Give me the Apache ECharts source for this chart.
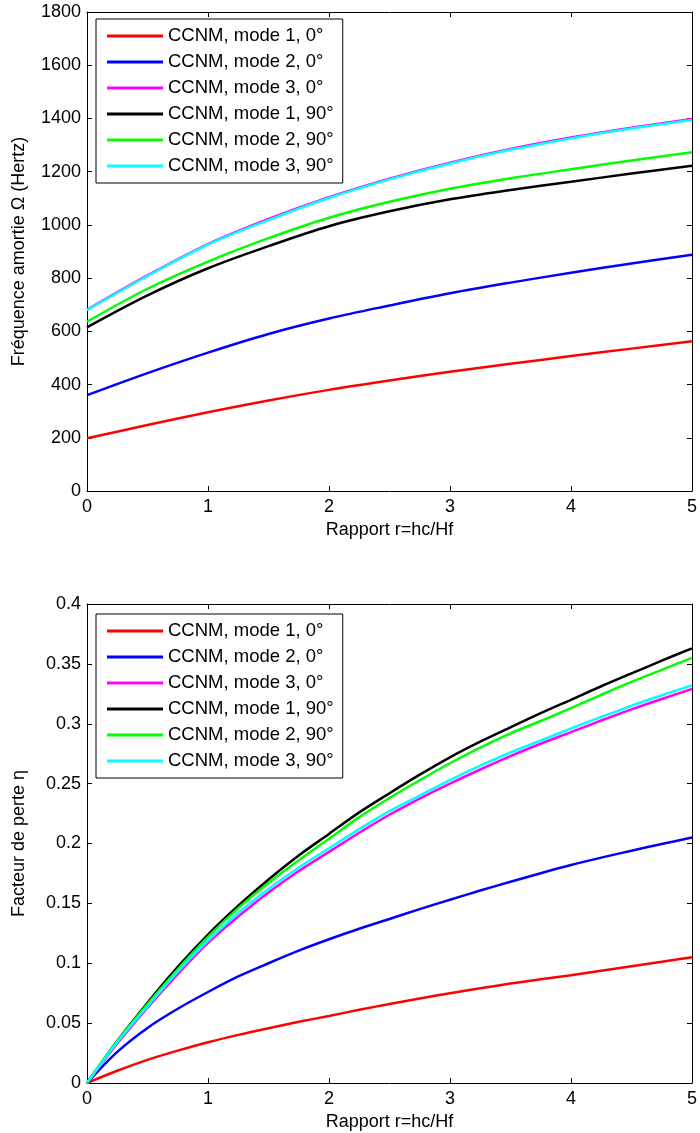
<!DOCTYPE html>
<html>
<head>
<meta charset="utf-8">
<script src="https://cdn.jsdelivr.net/npm/echarts@6/dist/echarts.min.js"></script>
<style>html,body{margin:0;padding:0;background:#fff}#c{width:700px;height:1133px}</style>
</head>
<body>
<div id="c"></div>
<script>
const FONT = '"Liberation Sans", Arial, Helvetica, sans-serif';

const seriesNames = ['CCNM, mode 1, 0°','CCNM, mode 2, 0°','CCNM, mode 3, 0°','CCNM, mode 1, 90°','CCNM, mode 2, 90°','CCNM, mode 3, 90°'];
const seriesColors = ['#ff0000','#0000ff','#ff00ff','#000000','#00ff00','#00ffff'];

// Top plot: damped frequency (Hz) vs r
const freqX = [0,0.5,1,1.5,2,2.5,3,3.5,4,4.5,5];
const freqM1_0  = [198,248,296,340,380,415,448,478,507,535,563];
const freqM2_0  = [360,443,520,590,648,697,743,783,820,855,888];
const freqM3_0  = [681,810,928,1022,1104,1174,1234,1285,1328,1365,1398];
const freqM1_90 = [615,735,837,920,995,1051,1096,1131,1162,1193,1222];
const freqM2_90 = [636,760,862,950,1027,1087,1136,1175,1209,1242,1273];
const freqM3_90 = [680,808,926,1018,1101,1171,1231,1282,1325,1362,1394];

// Bottom plot: loss factor vs r
const lossX = [0,0.25,0.5,0.75,1,1.25,1.5,1.75,2,2.25,2.5,2.75,3,3.25,3.5,3.75,4,4.25,4.5,4.75,5];
const lossM1_0  = [0,0.0102,0.0193,0.0270,0.034,0.0402,0.0458,0.0511,0.056,0.0611,0.066,0.0706,0.075,0.0791,0.083,0.0866,0.090,0.0938,0.0975,0.1012,0.105];
const lossM2_0  = [0,0.026,0.046,0.062,0.076,0.089,0.100,0.1105,0.120,0.1288,0.137,0.1452,0.153,0.1607,0.168,0.1752,0.182,0.1882,0.194,0.1996,0.205];
const lossM3_0  = [0,0.033,0.063,0.091,0.117,0.139,0.159,0.177,0.193,0.209,0.224,0.2375,0.250,0.2618,0.273,0.2833,0.293,0.3027,0.312,0.3207,0.329];
const lossM1_90 = [0,0.035,0.067,0.097,0.124,0.148,0.170,0.190,0.208,0.226,0.242,0.2575,0.272,0.285,0.297,0.3088,0.320,0.3313,0.342,0.3527,0.363];
const lossM2_90 = [0,0.035,0.066,0.095,0.122,0.146,0.167,0.186,0.204,0.222,0.238,0.2528,0.267,0.280,0.292,0.3023,0.313,0.3242,0.335,0.345,0.355];
const lossM3_90 = [0,0.034,0.064,0.093,0.119,0.142,0.162,0.180,0.196,0.212,0.227,0.240,0.253,0.265,0.276,0.286,0.296,0.3057,0.315,0.3238,0.332];

const xTitle = 'Rapport r=hc/Hf';
const yTitleTop = 'Fréquence amortie Ω (Hertz)';
const yTitleBottom = 'Facteur de perte η';

const freqSets = [freqM1_0, freqM2_0, freqM3_0, freqM1_90, freqM2_90, freqM3_90];
const lossSets = [lossM1_0, lossM2_0, lossM3_0, lossM1_90, lossM2_90, lossM3_90];

const chart = echarts.init(document.getElementById('c'), null, {renderer: 'canvas'});

const lineAxis = {show: true, lineStyle: {color: '#000', width: 1}};
const tickIn = {show: true, inside: true, length: 5, lineStyle: {color: '#000', width: 1}};
const lbl = {color: '#000', fontSize: 18, fontFamily: FONT, formatter: v => String(v)};

function xAx(grid, pos, main) {
  return {
    type: 'value', gridIndex: grid, position: pos, min: 0, max: 5, interval: 1,
    axisLine: Object.assign({onZero: false}, lineAxis), axisTick: tickIn, splitLine: {show: false},
    axisLabel: main ? Object.assign({margin: 7}, lbl) : {show: false},
    name: main ? xTitle : '', nameLocation: 'middle', nameGap: 30,
    nameTextStyle: {color: '#000', fontSize: 18, fontFamily: FONT}
  };
}
function yAx(grid, pos, main, max, interval, title) {
  return {
    type: 'value', gridIndex: grid, position: pos, min: 0, max: max, interval: interval,
    axisLine: Object.assign({onZero: false}, lineAxis), axisTick: tickIn, splitLine: {show: false},
    axisLabel: main ? Object.assign({margin: 6}, lbl) : {show: false},
    name: main ? title : '', nameLocation: 'middle', nameGap: 59,
    nameTextStyle: {color: '#000', fontSize: 18, fontFamily: FONT}
  };
}

const series = [];
seriesNames.forEach((n, i) => {
  series.push({
    name: n, type: 'line', xAxisIndex: 0, yAxisIndex: 0,
    data: freqX.map((x, k) => [x, freqSets[i][k]]),
    smooth: 0.35, showSymbol: false, symbol: 'none',
    lineStyle: {color: seriesColors[i], width: 2.5}, itemStyle: {color: seriesColors[i]},
    z: 2 + i
  });
});
seriesNames.forEach((n, i) => {
  series.push({
    name: n, type: 'line', xAxisIndex: 2, yAxisIndex: 2,
    data: lossX.map((x, k) => [x, lossSets[i][k]]),
    smooth: 0.3, showSymbol: false, symbol: 'none',
    lineStyle: {color: seriesColors[i], width: 2.5}, itemStyle: {color: seriesColors[i]},
    z: 2 + i
  });
});

function legendAt(top) {
  return {
    orient: 'vertical', left: 96, top: top,
    data: seriesNames, icon: 'rect', itemWidth: 56, itemHeight: 3, itemGap: 0,
    padding: [4, 9, 4, 11],
    backgroundColor: '#fff', borderColor: '#000', borderWidth: 1,
    textStyle: {color: '#000', fontSize: 18.5, fontFamily: FONT, lineHeight: 26},
    selectedMode: false, inactiveColor: '#000'
  };
}

chart.setOption({
  animation: false,
  backgroundColor: '#fff',
  grid: [
    {left: 87, top: 12, width: 607, height: 479},
    {left: 87, top: 604, width: 607, height: 479}
  ],
  xAxis: [xAx(0, 'bottom', true), xAx(0, 'top', false), xAx(1, 'bottom', true), xAx(1, 'top', false)],
  yAxis: [
    yAx(0, 'left', true, 1800, 200, yTitleTop), yAx(0, 'right', false, 1800, 200, ''),
    yAx(1, 'left', true, 0.4, 0.05, yTitleBottom), yAx(1, 'right', false, 0.4, 0.05, '')
  ],
  legend: [legendAt(19), legendAt(614)],
  series: series
});
</script>
</body>
</html>
